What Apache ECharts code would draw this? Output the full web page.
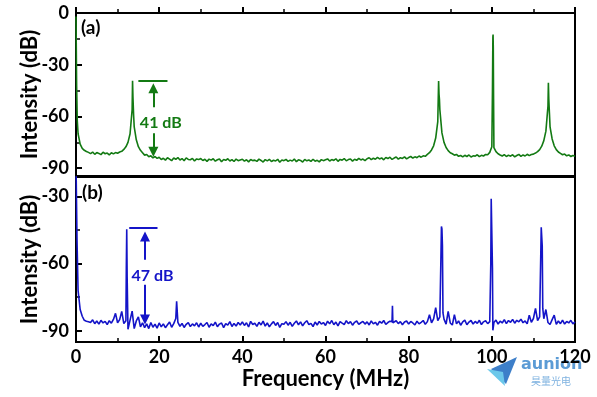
<!DOCTYPE html>
<html>
<head>
<meta charset="utf-8">
<script src="https://cdn.jsdelivr.net/npm/echarts@6/dist/echarts.min.js"></script>
<style>
  html, body { margin: 0; padding: 0; background: #fff; }
  #chart { width: 597px; height: 397px; }
</style>
</head>
<body>
<div id="chart"></div>
<script>
var STEP = 0.5;

var floorA = [
  -2, -70, -76, -78.5, -79.6, -80.3, -80.8, -81.5, -80.6, -81.9, -80.9, -81.4, -82.1, -80.7, -81.6, -81.2, -82.3, -81.0, -81.7, -80.9,
  -81.3, -80.6, -80.2, -79.1, -77.6, -75.0, -70.0, -56, -66, -73.5, -77.5, -79.6, -81.0, -82.4, -82.0, -83.3, -82.8, -84.0, -83.2, -84.3,
  -83.6, -84.9, -84.2, -85.3, -83.9, -84.7, -85.6, -84.1, -84.8, -83.8, -85.2, -84.4, -85.7, -84.0, -84.9, -85.1, -84.3, -85.8, -84.6, -85.0,
  -84.4, -85.5, -84.8, -86.0, -84.7, -85.3, -84.5, -85.9, -85.1, -84.6, -86.2, -84.9, -85.4, -84.5, -85.8, -85.0, -86.1, -84.7, -85.6, -85.2,
  -84.8, -85.9, -85.1, -86.3, -84.9, -85.6, -85.3, -86.0, -84.7, -85.5, -86.4, -85.0, -85.7, -84.9, -86.1, -85.4, -85.8, -84.8, -86.5, -85.2,
  -85.6, -84.9, -86.0, -85.3, -85.8, -84.7, -86.2, -85.1, -85.5, -86.4, -84.9, -85.7, -85.2, -86.0, -84.8, -85.9, -85.4, -86.3, -85.0, -85.6,
  -85.1, -84.6, -85.8, -85.0, -85.5, -84.5, -86.0, -84.9, -85.3, -84.4, -85.7, -85.0, -84.6, -85.9, -84.8, -85.4, -84.3, -85.2, -84.7, -85.6,
  -84.5, -83.9, -85.0, -84.2, -84.8, -83.7, -84.6, -84.0, -85.1, -83.8, -84.4, -83.6, -84.9, -84.1, -83.5, -84.7, -83.9, -84.3, -83.4, -84.6,
  -83.8, -83.2, -84.1, -83.4, -83.9, -82.9, -83.6, -82.8, -83.1, -82.0, -81.0, -79.4, -77.0, -72.5, -63, -56, -69.5, -75.0, -78.0, -79.8,
  -81.0, -81.6, -82.4, -82.0, -83.1, -82.6, -83.4, -82.5, -83.2, -82.3, -83.5, -82.8, -83.0, -82.2, -83.3, -82.5, -82.9, -82.0, -82.2, -80.8,
  -77.5, -78.0, -80.4, -81.6, -82.3, -82.9, -82.1, -83.2, -82.4, -83.0, -82.2, -83.4, -82.6, -82.0, -83.1, -82.3, -82.9, -81.9, -82.7, -82.0,
  -81.8, -81.2, -80.4, -79.2, -77.2, -74.0, -68.5, -54, -66, -73, -77, -79.2, -80.6, -81.4, -82.2, -81.8, -82.8, -82.3, -83.2, -82.6,
  -83.0
];
// extra samples on the narrow peak tops, [MHz, dB]
var peaksA = [
  [0.15, -42], [0.3, -62],
  [13.6, -39.3], [13.7, -49], [13.85, -59],
  [87.2, -39.5], [87.3, -47], [87.4, -50],
  [100.15, -45], [100.25, -14], [100.3, -12.5], [100.35, -20], [100.42, -50],
  [113.6, -40.4], [113.7, -50], [113.85, -58]
];

var floorB = [
  -15, -72, -80.5, -83.5, -85.3, -85.7, -86.0, -86.3, -85.1, -86.8, -85.6, -87.0, -85.3, -86.5, -85.8, -87.2, -85.5, -86.6, -84.9, -82.2,
  -86.4, -85.0, -81.3, -86.8, -85.5, -89.3, -85.2, -81.2, -89.0, -85.6, -83.8, -88.2, -86.4, -88.6, -86.9, -89.0, -86.3, -88.4, -87.0, -88.8,
  -86.5, -88.2, -86.9, -88.6, -87.3, -86.1, -88.4, -86.8, -84.5, -86.2, -88.0, -86.7, -88.5, -87.1, -86.3, -88.1, -86.9, -87.8, -86.4, -88.3,
  -86.6, -88.0, -87.2, -86.3, -88.4, -86.9, -87.7, -86.1, -88.2, -87.0, -86.5, -88.6, -86.8, -87.5, -85.9, -88.1, -86.7, -87.9, -86.3, -87.4,
  -86.0, -87.6, -86.4, -88.3, -85.8, -87.2, -86.6, -88.0, -86.2, -87.4, -85.7, -87.9, -86.5, -88.2, -86.9, -85.9, -87.6, -86.3, -88.5, -86.8,
  -87.1, -85.9, -87.5, -86.2, -88.0, -86.6, -85.6, -87.3, -86.0, -87.8, -86.4, -85.5, -87.2, -86.7, -88.1, -86.1, -87.4, -85.8, -87.0, -86.3,
  -87.6, -85.7, -86.9, -85.4, -87.3, -86.1, -87.8, -85.9, -86.6, -87.2, -85.5, -86.8, -85.9, -87.5, -86.2, -85.6, -87.1, -86.4, -85.8, -87.0,
  -86.0, -87.4, -85.6, -86.9, -86.2, -87.5, -85.8, -86.6, -85.4, -87.1, -86.3, -85.7, -86.0, -87.2, -85.5, -86.8, -85.9, -87.3, -86.1, -85.6,
  -87.0, -85.8, -86.5, -87.4, -85.7, -86.9, -86.2, -85.4, -87.1, -85.9, -82.8, -86.4, -84.7, -79.7, -85.5, -83.8, -44.5, -84.8, -87.0, -81.3,
  -86.5, -87.4, -82.8, -86.9, -85.6, -87.5, -86.0, -85.2, -87.3, -86.1, -85.4, -87.0, -85.8, -86.7, -85.3, -87.2, -86.0, -85.5, -86.8, -85.9,
  -31.5, -86.3, -85.2, -87.0, -85.7, -86.5, -85.0, -86.8, -85.4, -86.2, -84.9, -86.6, -85.3, -86.0, -84.8, -86.4, -85.6, -86.9, -83.0, -86.2,
  -84.5, -80.0, -85.4, -83.8, -44.0, -84.6, -80.5, -86.3, -87.2, -85.0, -83.0, -87.1, -85.6, -86.8, -85.2, -87.0, -85.8, -86.5, -85.3, -86.9,
  -86.0
];
var peaksB = [
  [0.25, -50],
  [12.1, -62], [12.2, -44.6], [12.3, -66],
  [24.2, -76.8],
  [76.1, -78.8], [76.2, -86.4],
  [87.75, -58], [87.88, -43.4], [88.12, -52], [88.25, -82],
  [99.75, -60], [99.85, -31], [99.95, -30.6], [100.15, -62], [100.25, -89.8],
  [111.75, -58], [111.88, -43.8], [112.12, -52], [112.25, -80]
];

// axis ticks
var yTicksA = [-90, -60, -30, 0];
var yMinorA = [-75, -45, -15];
var yTicksB = [-90, -60, -30];
var yMinorB = [-75, -45];

// annotations (data coordinates)
var barA = [[15.0, -39.3], [22.0, -39.3]];
var upA = [[18.6, -54.6], [18.6, -43.6]];
var downA = [[18.6, -69.7], [18.6, -80.5]];
var textA = [20.4, -63.7];
var barB = [[12.8, -44.1], [19.6, -44.1]];
var upB = [[16.6, -58.3], [16.6, -47.9]];
var downB = [[16.6, -69.4], [16.6, -85.0]];
var textB = [18.4, -65.4];

var GREEN = '#137a13';
var BLUE = '#1414c8';
var FONT = 'Lato';

function buildTrace(floor, peaks) {
  var pts = floor.map(function (v, i) { return [i * STEP, v]; });
  return pts.concat(peaks).sort(function (a, b) { return a[0] - b[0]; });
}

function marks(color, bar, up, down, txtPos, txt) {
  return {
    markLine: {
      silent: true,
      animation: false,
      symbol: ['none', 'triangle'],
      symbolSize: 10,
      label: { show: false },
      lineStyle: { color: color, width: 2, type: 'solid' },
      data: [
        [{ coord: bar[0], symbol: 'none' }, { coord: bar[1], symbol: 'none' }],
        [{ coord: up[0] }, { coord: up[1] }],
        [{ coord: down[0] }, { coord: down[1] }]
      ]
    },
    markPoint: {
      silent: true,
      animation: false,
      symbol: 'circle',
      symbolSize: 1,
      itemStyle: { color: 'rgba(0,0,0,0)' },
      label: {
        show: true, position: 'inside', formatter: txt,
        color: color, fontFamily: FONT, fontWeight: 'bold', fontSize: 16
      },
      data: [{ coord: txtPos }]
    }
  };
}

var axisLine = { lineStyle: { color: '#000', width: 2 } };
var labelStyle = { fontFamily: FONT, fontWeight: 'bold', fontSize: 18, color: '#000' };
var nameStyle = { fontFamily: FONT, fontWeight: 'bold', fontSize: 22, color: '#000' };

function xAxis(grid, withLabels) {
  return {
    gridIndex: grid, type: 'value', min: 0, max: 120, interval: 20,
    axisLine: axisLine,
    axisTick: { inside: true, length: 6, lineStyle: { color: '#000', width: 2 } },
    minorTick: { show: true, splitNumber: 2, length: 4, lineStyle: { color: '#000', width: 1.5 } },
    axisLabel: Object.assign({ show: withLabels, margin: 6 }, labelStyle),
    splitLine: { show: false },
    name: withLabels ? 'Frequency (MHz)' : '',
    nameLocation: 'middle', nameGap: 26, nameTextStyle: nameStyle
  };
}

function yAxis(grid, min, max, ticks) {
  return {
    gridIndex: grid, type: 'value', min: min, max: max, position: 'left',
    axisLine: axisLine,
    axisTick: { inside: true, length: 6, customValues: ticks, lineStyle: { color: '#000', width: 2 } },
    axisLabel: Object.assign({ customValues: ticks, margin: 7 }, labelStyle),
    splitLine: { show: false },
    name: 'Intensity (dB)', nameLocation: 'middle', nameGap: 35, nameMoveOverlap: false,
    nameTextStyle: nameStyle
  };
}

function yMinor(grid, min, max, ticks) {
  return {
    gridIndex: grid, type: 'value', min: min, max: max, position: 'left',
    axisLine: { show: false },
    axisTick: { inside: true, length: 4, customValues: ticks, lineStyle: { color: '#000', width: 1.5 } },
    axisLabel: { show: false },
    splitLine: { show: false }
  };
}

var chart = echarts.init(document.getElementById('chart'));
chart.setOption({
  animation: false,
  backgroundColor: '#fff',
  grid: [
    { left: 76, top: 13, width: 499, height: 163, show: true, borderColor: '#000', borderWidth: 2 },
    { left: 76, top: 177, width: 499, height: 165, show: true, borderColor: '#000', borderWidth: 2 }
  ],
  xAxis: [xAxis(0, false), xAxis(1, true)],
  yAxis: [
    yAxis(0, -94.5, 0, yTicksA),
    yMinor(0, -94.5, 0, yMinorA),
    yAxis(1, -95, -21.3, yTicksB),
    yMinor(1, -95, -21.3, yMinorB)
  ],
  series: [
    Object.assign({
      type: 'line', xAxisIndex: 0, yAxisIndex: 0,
      data: buildTrace(floorA, peaksA),
      showSymbol: false, symbol: 'none',
      lineStyle: { color: GREEN, width: 1.6 }, itemStyle: { color: GREEN }
    }, marks(GREEN, barA, upA, downA, textA, '41 dB')),
    Object.assign({
      type: 'line', xAxisIndex: 1, yAxisIndex: 2,
      data: buildTrace(floorB, peaksB),
      showSymbol: false, symbol: 'none',
      lineStyle: { color: BLUE, width: 1.6 }, itemStyle: { color: BLUE }
    }, marks(BLUE, barB, upB, downB, textB, '47 dB'))
  ],
  graphic: [
    { type: 'text', left: 81, top: 18, style: { text: '(a)', font: 'bold 19px Lato', fill: '#000' } },
    { type: 'text', left: 82, top: 183, style: { text: '(b)', font: 'bold 19px Lato', fill: '#000' } },
    // watermark logo
    { type: 'polygon', shape: { points: [[491, 369], [517, 357], [506, 384]] }, style: { fill: '#3d7fc9' } },
    { type: 'polygon', shape: { points: [[487, 369], [503, 372], [505, 386]] }, style: { fill: '#6cc8ea' } },
    { type: 'text', left: 521, top: 357, style: { text: 'aunion', font: 'bold 16px "DejaVu Sans"', fill: '#5b9bd5' } },
    { type: 'text', left: 531, top: 376, style: { text: '昊量光电', font: '10px "Noto Sans CJK SC"', fill: '#7fb2e0' } }
  ]
});
</script>
</body>
</html>
